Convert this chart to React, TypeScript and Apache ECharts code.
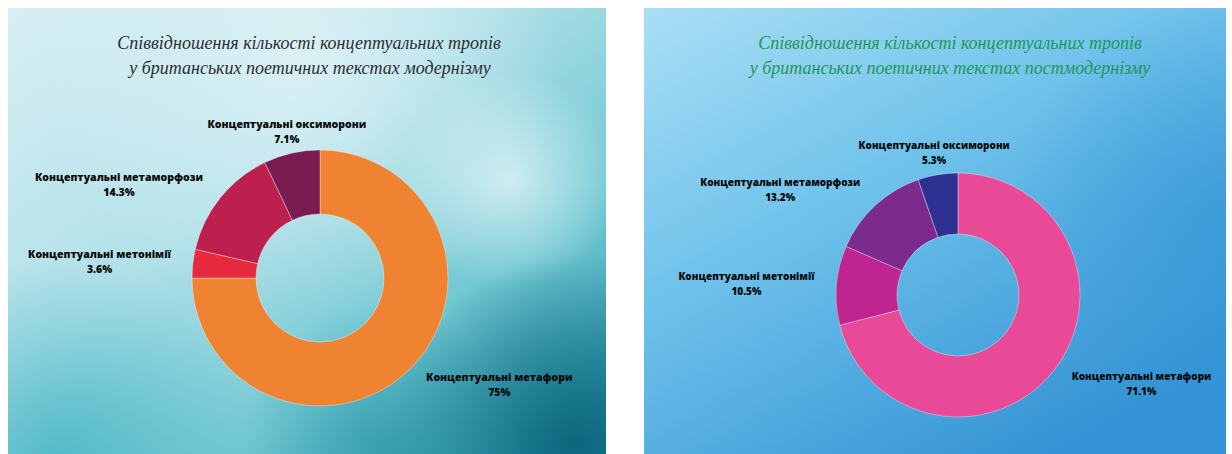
import React, { useEffect, useRef } from "react";
import * as echarts from "echarts";

// ---- data ----
const categories = [
  "Концептуальні метафори",
  "Концептуальні метонімії",
  "Концептуальні метаморфози",
  "Концептуальні оксиморони",
];
const modernismValues = [75, 3.6, 14.3, 7.1];
const postmodernismValues = [71.1, 10.5, 13.2, 5.3];

const modernismTitle = [
  "Співвідношення кількості концептуальних тропів",
  "у британських поетичних текстах модернізму",
];
const postmodernismTitle = [
  "Співвідношення кількості концептуальних тропів",
  "у британських поетичних текстах постмодернізму",
];

const modernismColors = ["#F08331", "#E42A3C", "#BD1F4F", "#7A1C52"];
const postmodernismColors = ["#E84A98", "#BF2590", "#7C2A8E", "#2E3192"];

function makeLabelLayout(values: number[], cx: number, cy: number, R: number) {
  const total = values.reduce((a, b) => a + b, 0);
  return (params: any) => {
    const i = params.dataIndex;
    let before = 0;
    for (let k = 0; k < i; k++) before += values[k];
    const frac = (before + values[i] / 2) / total;
    const theta = frac * Math.PI * 2;
    const ux = Math.sin(theta);
    const uy = -Math.cos(theta);
    const px = cx + R * ux;
    const py = cy + R * uy;
    const w = params.labelRect.width;
    const x = ux < -0.5 ? px - w / 2 : ux > 0.5 ? px + w / 2 : px;
    return { x, y: py, align: "center", verticalAlign: "middle" };
  };
}

function pieSeries(
  values: number[],
  colors: string[],
  center: [number, number],
  radius: [number, number],
  fontSize: number
) {
  return {
    type: "pie",
    center,
    radius,
    startAngle: 90,
    clockwise: true,
    silent: true,
    avoidLabelOverlap: false,
    emphasis: { disabled: true },
    itemStyle: { borderColor: "rgba(255,255,255,0.35)", borderWidth: 1 },
    label: {
      show: true,
      position: "outside",
      edgeDistance: 0,
      formatter: (p: any) => `${p.name}\n${p.value}%`,
      color: "#0a0a0a",
      fontFamily: "Open Sans",
      fontWeight: 800,
      fontSize,
      lineHeight: 15,
    },
    labelLine: { show: false },
    labelLayout: makeLabelLayout(values, center[0], center[1], radius[1] + 22),
    data: categories.map((name, i) => ({
      name,
      value: values[i],
      itemStyle: { color: colors[i] },
    })),
  };
}

function radial(x: number, y: number, r: number, inner: string, outer: string) {
  return {
    type: "radial",
    x,
    y,
    r,
    global: true,
    colorStops: [
      { offset: 0, color: inner },
      { offset: 1, color: outer },
    ],
  };
}

export default function App() {
  const ref = useRef<HTMLDivElement>(null);

  useEffect(() => {
    if (!ref.current) return;
    const chart = echarts.init(ref.current, undefined, { renderer: "svg" });

    const L = { x: 8, y: 8, w: 598, h: 446 };
    const Rp = { x: 644, y: 8, w: 582, h: 446 };

    const leftBg = [
      {
        type: "rect",
        shape: { x: L.x, y: L.y, width: L.w, height: L.h },
        style: {
          fill: {
            type: "linear",
            x: 0,
            y: 0,
            x2: 1,
            y2: 1,
            colorStops: [
              { offset: 0, color: "#d8eff4" },
              { offset: 0.4, color: "#b0e0e8" },
              { offset: 0.7, color: "#72c8d3" },
              { offset: 1, color: "#2595aa" },
            ],
          },
        },
      },
      {
        type: "rect",
        shape: { x: L.x, y: L.y, width: L.w, height: L.h },
        style: { fill: radial(300, 60, 260, "rgba(232,246,249,0.7)", "rgba(232,246,249,0)") },
      },
      {
        type: "rect",
        shape: { x: L.x, y: L.y, width: L.w, height: L.h },
        style: { fill: radial(60, 460, 200, "rgba(60,178,192,0.75)", "rgba(60,178,192,0)") },
      },
      {
        type: "rect",
        shape: { x: L.x, y: L.y, width: L.w, height: L.h },
        style: { fill: radial(510, 180, 110, "rgba(236,248,250,0.7)", "rgba(236,248,250,0)") },
      },
      {
        type: "rect",
        shape: { x: L.x, y: L.y, width: L.w, height: L.h },
        style: { fill: radial(575, 445, 190, "rgba(10,100,122,0.95)", "rgba(10,100,122,0)") },
      },
      {
        type: "rect",
        shape: { x: L.x, y: L.y, width: L.w, height: L.h },
        style: { fill: radial(380, 445, 140, "rgba(30,140,160,0.55)", "rgba(30,140,160,0)") },
      },
    ];

    const rightBg = [
      {
        type: "rect",
        shape: { x: Rp.x, y: Rp.y, width: Rp.w, height: Rp.h },
        style: {
          fill: {
            type: "linear",
            x: 0,
            y: 0,
            x2: 0.7,
            y2: 1,
            colorStops: [
              { offset: 0, color: "#aadff5" },
              { offset: 0.45, color: "#6fc2eb" },
              { offset: 1, color: "#3493d4" },
            ],
          },
        },
      },
      {
        type: "rect",
        shape: { x: Rp.x, y: Rp.y, width: Rp.w, height: Rp.h },
        style: { fill: radial(1226, 220, 220, "rgba(50,150,215,0.6)", "rgba(50,150,215,0)") },
      },
    ];

    const titleFont = {
      textAlign: "center",
      textVerticalAlign: "middle",
      fontFamily: "Liberation Serif",
      fontStyle: "italic",
      fontSize: 18,
    };

    const titles = [
      { text: modernismTitle[0], x: 309, y: 43, color: "#2c3033" },
      { text: modernismTitle[1], x: 310, y: 68, color: "#2c3033" },
      { text: postmodernismTitle[0], x: 950, y: 43, color: "#1f9758" },
      { text: postmodernismTitle[1], x: 950, y: 68, color: "#1f9758" },
    ].map((t) => ({
      type: "text",
      x: t.x,
      y: t.y,
      z: 10,
      style: { ...titleFont, text: t.text, fill: t.color },
    }));

    chart.setOption({
      animation: false,
      backgroundColor: "#ffffff",
      graphic: [...leftBg, ...rightBg, ...titles].map((g: any) => ({
        ...g,
        z: g.z ?? -10,
        silent: true,
      })),
      series: [
        pieSeries(modernismValues, modernismColors, [320, 278], [64, 128], 10.5),
        pieSeries(postmodernismValues, postmodernismColors, [958, 295], [61, 122], 10),
      ],
    });

    return () => chart.dispose();
  }, []);

  return (
    <div
      ref={ref}
      style={{ position: "absolute", left: 0, top: 0, width: 1232, height: 454 }}
    />
  );
}
